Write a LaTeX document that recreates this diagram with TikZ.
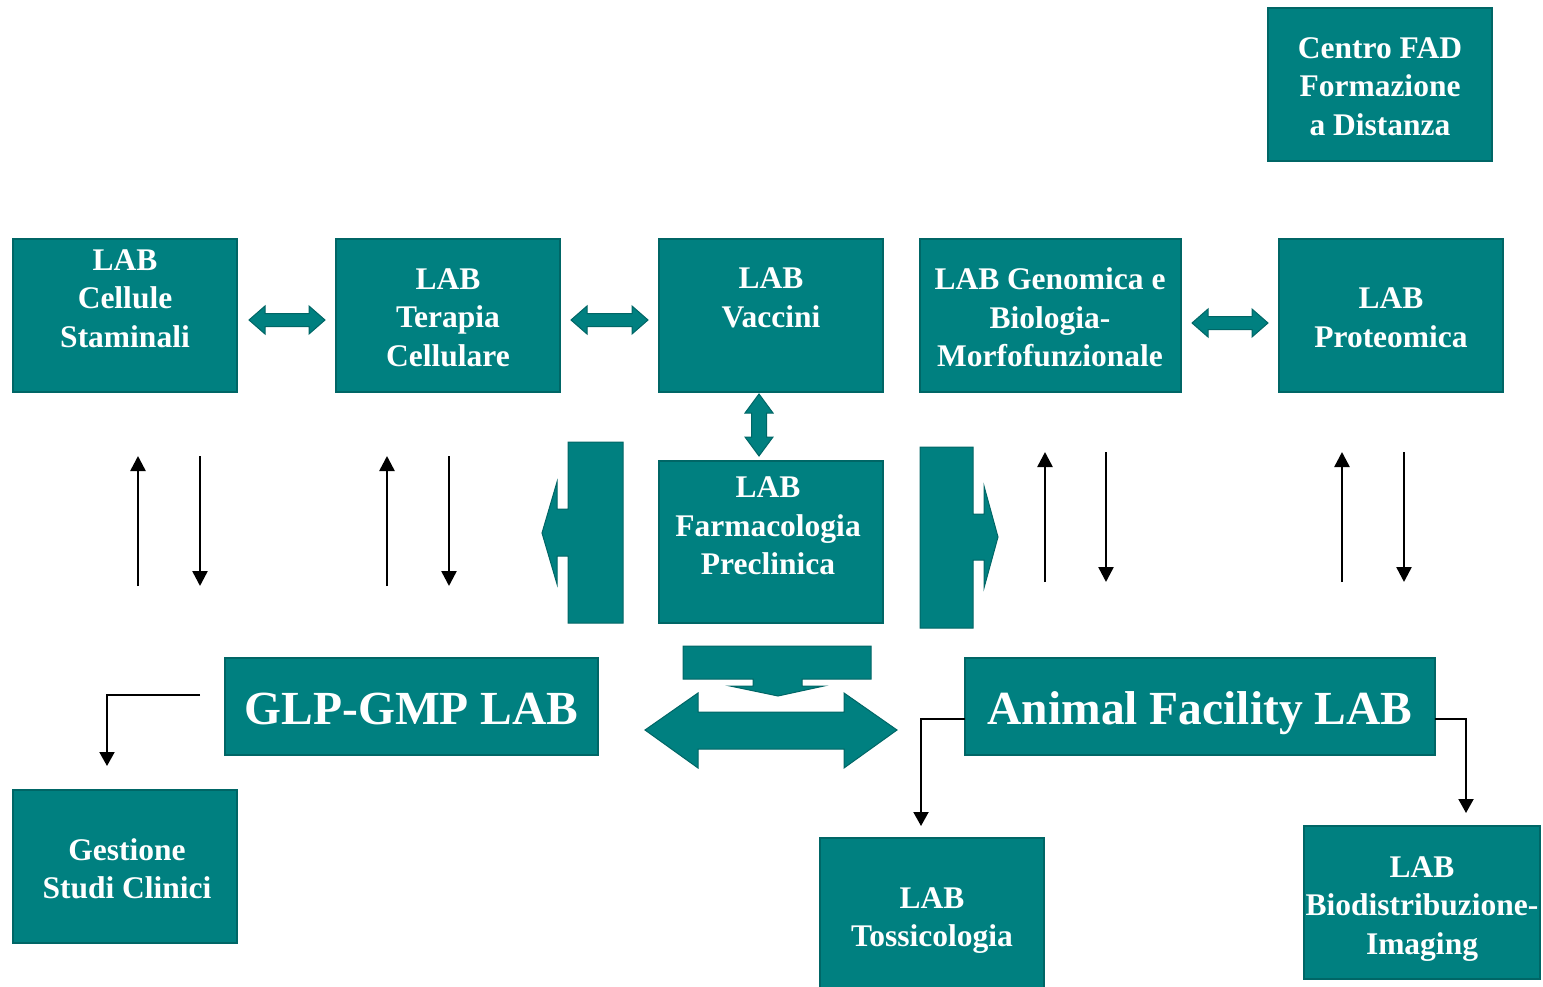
\documentclass[tikz,border=0pt]{standalone}
\usepackage{fontspec}
\setmainfont{Liberation Serif}
\usetikzlibrary{arrows.meta}
\definecolor{tealfill}{HTML}{008080}
\definecolor{tealdark}{HTML}{006666}
\begin{document}
\begin{tikzpicture}[x=1pt,y=-1pt,
 box/.style={draw=tealdark, line width=1.5pt, fill=tealfill, inner sep=0pt, outer sep=0pt},
 txt/.style={text=white, font=\bfseries\fontsize{31.5}{38.5}\selectfont, align=center, inner sep=0pt},
 big/.style={text=white, font=\bfseries\fontsize{47.5}{56}\selectfont, inner sep=0pt},
 blk/.style={fill=tealfill, draw=tealdark, line width=1pt, line join=miter},
 arr/.style={draw=black, line width=2.5pt, -{Triangle[length=15pt,width=15pt]}},
 arrthin/.style={draw=black, line width=2pt, -{Triangle[length=14pt,width=15pt]}}
]
\useasboundingbox (0,0) rectangle (1543,987);

% boxes
\node[box, minimum width=224, minimum height=153] (fad) at (1380,84.5) {};
\node[box, minimum width=224, minimum height=153] (cs) at (125,315.5) {};
\node[box, minimum width=224, minimum height=153] (tc) at (448,315.5) {};
\node[box, minimum width=224, minimum height=153] (vac) at (771,315.5) {};
\node[box, minimum width=261, minimum height=153] (gen) at (1050.5,315.5) {};
\node[box, minimum width=224, minimum height=153] (prot) at (1391,315.5) {};
\node[box, minimum width=224, minimum height=162] (farm) at (771,542) {};
\node[box, minimum width=373, minimum height=97] (glp) at (411.5,706.5) {};
\node[box, minimum width=470, minimum height=97] (anim) at (1200,706.5) {};
\node[box, minimum width=224, minimum height=153] (ges) at (125,866.5) {};
\node[box, minimum width=224, minimum height=156] (tox) at (932,916) {};
\node[box, minimum width=236, minimum height=153] (bio) at (1422,902.5) {};

% texts
\node[txt] (fadt) at (1380,86.5) {Centro FAD\\Formazione\\a Distanza};
\node[txt] (cst) at (125,298.5) {LAB\\Cellule\\Staminali};
\node[txt] (tct) at (448,317.5) {LAB\\Terapia\\Cellulare};
\node[txt] (vact) at (771,298) {LAB\\Vaccini};
\node[txt] (gent) at (1050,317.5) {LAB Genomica e\\Biologia-\\Morfofunzionale};
\node[txt] (prott) at (1391,318) {LAB\\Proteomica};
\node[txt] (farmt) at (768,526) {LAB\\Farmacologia\\Preclinica};
\node[big] (glpt) at (411.5,709) {GLP-GMP LAB};
\node[big] (animt) at (1200,713) {Animal Facility LAB};
\node[txt] (gest) at (127,869) {Gestione\\Studi Clinici};
\node[txt] (toxt) at (932,920.5) {LAB\\Tossicologia};
\node[txt] (biot) at (1422,909) {LAB\\Biodistribuzione-\\Imaging};

% teal double arrows
\draw[blk] (249,320) -- (265,306) -- (265,313.5) -- (309,313.5) -- (309,306) -- (325,320) -- (309,334) -- (309,326.5) -- (265,326.5) -- (265,334) -- cycle;
\draw[blk] (571,320) -- (587,306) -- (587,313.5) -- (632,313.5) -- (632,306) -- (648,320) -- (632,334) -- (632,326.5) -- (587,326.5) -- (587,334) -- cycle;
\draw[blk] (1192,323) -- (1208,309) -- (1208,316.5) -- (1252,316.5) -- (1252,309) -- (1268,323) -- (1252,337) -- (1252,329.5) -- (1208,329.5) -- (1208,337) -- cycle;
\draw[blk] (759,394) -- (773,413) -- (766.5,413) -- (766.5,437) -- (773,437) -- (759,456) -- (745,437) -- (751.5,437) -- (751.5,413) -- (745,413) -- cycle;

% big side arrows
\draw[blk] (623,442) -- (568,442) -- (568,509) -- (557,509) -- (557,482) -- (542,533) -- (557,584) -- (557,556) -- (568,556) -- (568,623) -- (623,623) -- cycle;
\draw[blk] (920,447) -- (973,447) -- (973,514) -- (984,514) -- (984,486) -- (998,537) -- (984,588) -- (984,560) -- (973,560) -- (973,628) -- (920,628) -- cycle;

% bottom middle
\draw[blk] (683,646) -- (871,646) -- (871,679) -- (802,679) -- (802,686) -- (824,686) -- (778,696) -- (730,686) -- (753,686) -- (753,679) -- (683,679) -- cycle;
\draw[blk] (645,730) -- (698,693) -- (698,712) -- (844,712) -- (844,693) -- (897,730) -- (844,768) -- (844,749) -- (698,749) -- (698,768) -- cycle;

% thin arrows
\coordinate (u1a) at (138,586); \coordinate (u1b) at (138,456);
\coordinate (d1a) at (200,456); \coordinate (d1b) at (200,586);
\coordinate (u2a) at (387,586); \coordinate (u2b) at (387,456);
\coordinate (d2a) at (449,456); \coordinate (d2b) at (449,586);
\coordinate (u3a) at (1045,582); \coordinate (u3b) at (1045,452);
\coordinate (d3a) at (1106,452); \coordinate (d3b) at (1106,582);
\coordinate (u4a) at (1342,582); \coordinate (u4b) at (1342,452);
\coordinate (d4a) at (1404,452); \coordinate (d4b) at (1404,582);
\draw[arr] (u1a) -- (u1b);
\draw[arr] (d1a) -- (d1b);
\draw[arr] (u2a) -- (u2b);
\draw[arr] (d2a) -- (d2b);
\draw[arr] (u3a) -- (u3b);
\draw[arr] (d3a) -- (d3b);
\draw[arr] (u4a) -- (u4b);
\draw[arr] (d4a) -- (d4b);

% elbow connectors
\coordinate (gs) at (200,695);
\coordinate (gt) at (107,766);
\coordinate (tt) at (921,826);
\coordinate (bt) at (1466,813);
\draw[arrthin] (gs) -| (gt);
\draw[arrthin] ([yshift=-12.5pt]anim.west) -| (tt);
\draw[arrthin] ([yshift=-12.5pt]anim.east) -| (bt);
\end{tikzpicture}
\end{document}
